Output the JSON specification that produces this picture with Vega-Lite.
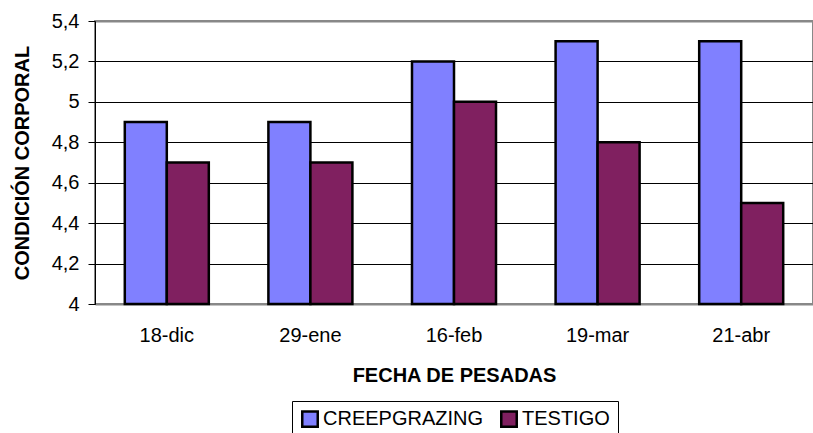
{
  "$schema": "https://vega.github.io/schema/vega-lite/v6.json",
  "width": 718,
  "height": 283,
  "autosize": "none",
  "padding": {"left": 95, "top": 21, "right": 0, "bottom": 129},
  "background": "white",
  "config": {
    "font": "Liberation Sans",
    "view": {"stroke": "#888888", "strokeWidth": 2},
    "axis": {"labelFont": "Liberation Sans", "titleFont": "Liberation Sans", "labelColor": "#000", "titleColor": "#000", "labelFontSize": 20, "titleFontSize": 20, "titleFontWeight": "bold"},
    "legend": {"labelFont": "Liberation Sans", "labelFontSize": 20, "labelLimit": 400}
  },
  "data": {
    "values": [
      {"fecha": "18-dic", "serie": "CREEPGRAZING", "valor": 4.9},
      {"fecha": "18-dic", "serie": "TESTIGO", "valor": 4.7},
      {"fecha": "29-ene", "serie": "CREEPGRAZING", "valor": 4.9},
      {"fecha": "29-ene", "serie": "TESTIGO", "valor": 4.7},
      {"fecha": "16-feb", "serie": "CREEPGRAZING", "valor": 5.2},
      {"fecha": "16-feb", "serie": "TESTIGO", "valor": 5.0},
      {"fecha": "19-mar", "serie": "CREEPGRAZING", "valor": 5.3},
      {"fecha": "19-mar", "serie": "TESTIGO", "valor": 4.8},
      {"fecha": "21-abr", "serie": "CREEPGRAZING", "valor": 5.3},
      {"fecha": "21-abr", "serie": "TESTIGO", "valor": 4.5}
    ]
  },
  "mark": {"type": "bar", "stroke": "#000", "strokeWidth": 2.5},
  "encoding": {
    "x": {
      "field": "fecha", "type": "nominal", "sort": null,
      "scale": {"paddingInner": 0.415, "paddingOuter": 0.2075},
      "axis": {
        "title": "FECHA DE PESADAS", "titlePadding": 20,
        "labelAngle": 0, "labelPadding": 21, "ticks": false,
        "domainColor": "#888888", "domainWidth": 2
      }
    },
    "xOffset": {"field": "serie", "type": "nominal", "scale": {"paddingInner": 0, "paddingOuter": 0}},
    "y": {
      "field": "valor", "type": "quantitative",
      "scale": {"domain": [4, 5.4], "zero": false, "nice": false},
      "axis": {
        "title": "CONDICIÓN CORPORAL", "titlePadding": 19,
        "values": [4, 4.2, 4.4, 4.6, 4.8, 5, 5.2, 5.4],
        "labelExpr": "replace(format(datum.value, '.1~f'), '.', ',')",
        "labelPadding": 9, "tickSize": 7, "tickColor": "#000",
        "domainColor": "#000", "domainWidth": 1,
        "grid": true,
        "gridColor": {"condition": {"test": "datum.value == 5.4", "value": "#888888"}, "value": "#000"},
        "gridWidth": {"condition": {"test": "datum.value == 5.4", "value": 2}, "value": 1}
      }
    },
    "y2": {"datum": 4},
    "color": {
      "field": "serie", "type": "nominal",
      "scale": {"domain": ["CREEPGRAZING", "TESTIGO"], "range": ["#8080FF", "#802060"]},
      "legend": {
        "title": null, "orient": "none", "direction": "horizontal",
        "legendX": 197, "legendY": 380,
        "symbolType": "square", "symbolSize": 240, "symbolStrokeColor": "#000", "symbolStrokeWidth": 2.5,
        "labelColor": "#000", "labelOffset": 3, "columnPadding": 12,
        "strokeColor": "#000", "padding": 8, "fillColor": "white"
      }
    }
  }
}
